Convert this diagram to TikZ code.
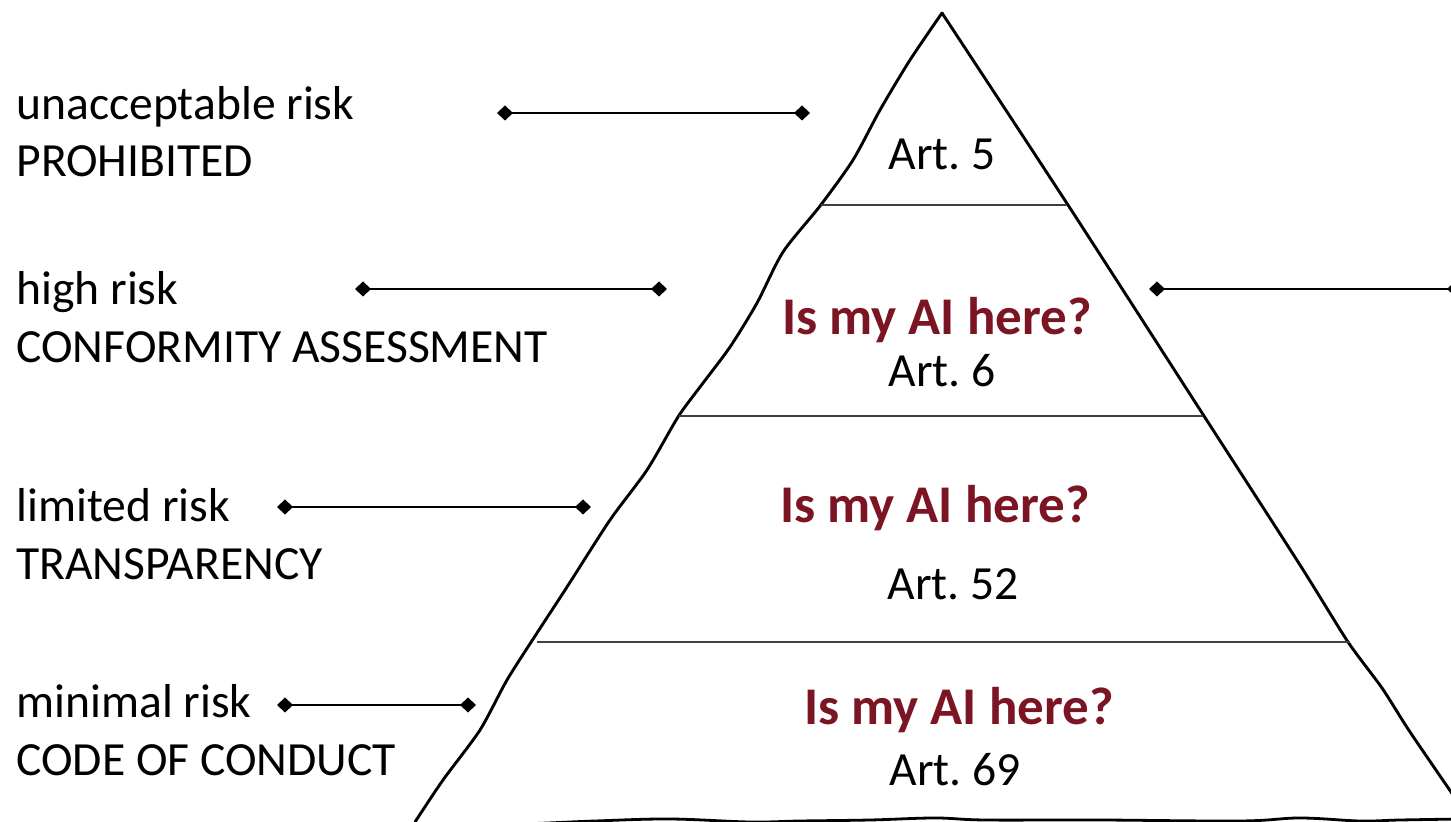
\documentclass[tikz,border=0pt]{standalone}
\usepackage{fontspec}
\setmainfont{Carlito}
\usetikzlibrary{arrows.meta}
\definecolor{airred}{RGB}{123,21,36}
\frenchspacing
\begin{document}
\begin{tikzpicture}[x=0.5pt,y=-0.5pt,
  lbl/.style={anchor=base west,inner sep=0pt,font=\fontsize{23.8}{28}\selectfont},
  art/.style={anchor=base,inner sep=0pt,font=\fontsize{23.8}{28}\selectfont},
  ask/.style={anchor=base,inner sep=0pt,text=airred,font=\fontsize{26.5}{32}\selectfont\bfseries},
  conn/.style={line width=1.25pt,{Diamond[length=8pt,width=7.5pt]}-{Diamond[length=8pt,width=7.5pt]}},
  pyredge/.style={line width=1.45pt,line join=round,line cap=round},
  divider/.style={line width=0.8pt,draw=black!75}]
\useasboundingbox (0,0) rectangle (1451,822);
\clip (0,0) rectangle (1451,822);

% pyramid edges
\draw[pyredge] plot[smooth,tension=0.45] coordinates {(415,822) (443,780) (480,730) (507,680) (537,633) (567,587) (610,520) (647,470) (678,417) (700,387) (730,347) (757,303) (783,252) (820,206) (853,160) (880,110) (910,60) (942,13)};
\draw[pyredge] plot[smooth,tension=0.4] coordinates {(942,13) (1068,205) (1204,416) (1300,565) (1348,642) (1382,688) (1410,732) (1462,808)};
% bottom wavy line
\draw[line width=1.4pt] plot[smooth,tension=0.6] coordinates {(415,826) (520,824) (595,821) (670,819) (750,822) (800,821) (870,820) (935,818) (985,820) (1100,820) (1240,821) (1300,818) (1360,821) (1400,820) (1460,819)};

% dividers
\coordinate (d1l) at (821,205); \coordinate (d1r) at (1067,205);
\coordinate (d2l) at (679,416); \coordinate (d2r) at (1203,416);
\coordinate (d3l) at (537,642); \coordinate (d3r) at (1350,642);
\draw[divider] (d1l) -- (d1r);
\draw[divider] (d2l) -- (d2r);
\draw[divider] (d3l) -- (d3r);

% texts inside pyramid
\node[art] (a5) at (942,170) {Art. 5};
\node[ask] (q2) at (937,335) {Is my AI here?};
\node[art] (a6) at (942,387) {Art. 6};
\node[ask] (q3) at (935,523) {Is my AI here?};
\node[art] (a52) at (953,600) {Art. 52};
\node[ask] (q4) at (959,725) {Is my AI here?};
\node[art] (a69) at (955,785) {Art. 69};

% left labels
\node[lbl] (l1a) at (16,120) {unacceptable risk};
\node[lbl] (l1b) at (16,177) {PROHIBITED};
\node[lbl] (l2a) at (16,305) {high risk};
\node[lbl] (l2b) at (16,363) {CONFORMITY ASSESSMENT};
\node[lbl] (l3a) at (16,522) {limited risk};
\node[lbl] (l3b) at (16,580) {TRANSPARENCY};
\node[lbl] (l4a) at (16,718) {minimal risk};
\node[lbl] (l4b) at (16,776) {CODE OF CONDUCT};

% connectors
\coordinate (c1a) at (497,113); \coordinate (c1b) at (810,113);
\coordinate (c2a) at (355,289); \coordinate (c2b) at (667,289);
\coordinate (c3a) at (277,507); \coordinate (c3b) at (591,507);
\coordinate (c4a) at (277,705); \coordinate (c4b) at (476,705);
\coordinate (c5a) at (1149,289); \coordinate (c5b) at (1463,289);
\draw[conn] (c1a) -- (c1b);
\draw[conn] (c2a) -- (c2b);
\draw[conn] (c3a) -- (c3b);
\draw[conn] (c4a) -- (c4b);
\draw[conn] (c5a) -- (c5b);
\end{tikzpicture}
\end{document}
